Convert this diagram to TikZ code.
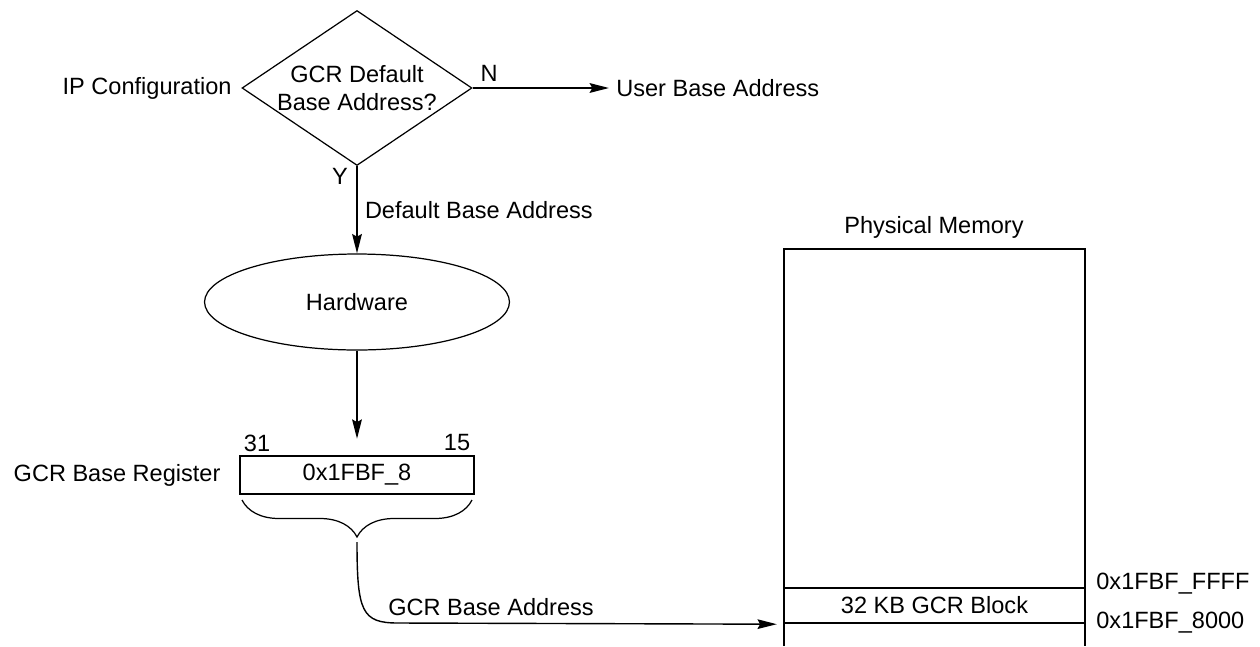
\documentclass[tikz,border=0pt]{standalone}
\usepackage{fontspec}
\setmainfont{Liberation Sans}
\usetikzlibrary{positioning, arrows.meta, shapes.geometric, decorations.pathreplacing}
\tikzset{
  lbl/.style={font=\fontsize{13.4}{16}\selectfont, inner sep=4pt},
  outl/.style={line width=0.7pt},
  heavy/.style={line width=1.4pt},
  flow/.style={line width=1.1pt, -{Stealth[length=11pt, width=5.5pt, inset=1.5pt]}}
}

\begin{document}
\begin{tikzpicture}[x=0.02cm, y=-0.02cm]
    \useasboundingbox (0,0) rectangle (1260,646);
    % Entscheidung
    \node[lbl, draw, outl, diamond, aspect=1.48, minimum width=4.6cm, minimum height=3.1cm,
      inner sep=0pt, align=center] (dec) at (357,88) {GCR Default\\Base Address?};
    \node[lbl, left=0.05cm of dec] (ipc) {IP Configuration};
    \node[lbl] (no) at (489,73) {N};
    \node[lbl] (yes) at (340,176) {Y};
    \node[lbl, anchor=west] (uba) at (609,88) {User Base Address};
    \draw[flow] (dec.east) -- (uba.west);
    % Hardware
    \node[lbl, draw, outl, ellipse, minimum width=6.1cm, minimum height=1.92cm] (hw) at (357,302) {Hardware};
    \draw[flow] (dec.south) -- (hw.north)
      node[lbl, midway, right] {Default Base Address};
    % Register
    \node[lbl, draw, heavy, minimum width=4.68cm, minimum height=0.76cm] (reg) at (357,475) {0x1FBF\_8};
    \node[lbl, left=0.22cm of reg] (grl) {GCR Base Register};
    \node[lbl] (b31) at (257,443) {31};
    \node[lbl] (b15) at (457,443) {15};
    \draw[flow, shorten >=0.32cm] (hw.south) -- (reg.north);
    \draw[outl, decorate, decoration={brace, mirror, amplitude=0.74cm}]
      (242,500) -- (472,500);
    \coordinate (tip) at (357,542);
    % Speicher
    \draw[heavy] (784,646) -- (784,249) -- (1085,249) -- (1085,646);
    \node[lbl] (pm) at (934,227) {Physical Memory};
    \node[lbl, draw, heavy, minimum width=6.02cm, minimum height=0.7cm] (blk) at (934.5,605.5) {32 KB GCR Block};
    \node[lbl, anchor=west] (hi) at (1089,584) {0x1FBF\_FFFF};
    \node[lbl, anchor=west] (lo) at (1089,623) {0x1FBF\_8000};
    % Basisadresse
    \draw[flow, line width=0.8pt, shorten >=0.12cm] (tip) .. controls (357,612) and (362,623) .. (398,623)
      -- (blk.south west);
    \node[lbl] (gba) at (491,607) {GCR Base Address};
  \end{tikzpicture}
\end{document}
